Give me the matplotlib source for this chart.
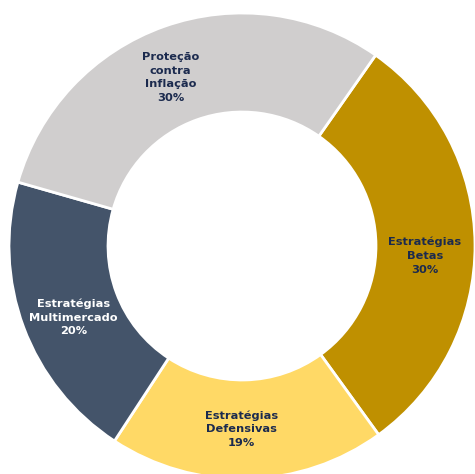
import matplotlib.pyplot as plt
import numpy as np

labels = ["Estratégias\nBetas", "Estratégias\nDefensivas", "Estratégias\nMultimercado", "Proteção\ncontra\nInflação"]
values = [30, 19, 20, 30]
colors = ["#BF9000", "#FFD966", "#44546A", "#D0CECE"]
text_colors = ["#1B2A4E", "#1B2A4E", "white", "#1B2A4E"]
# small nudges of label angle (deg) so they sit like the original
angle_nudge = [-3.5, -1.5, 2.5, 3.5]

fig = plt.figure(figsize=(4.75, 4.74), dpi=100)
ax = fig.add_axes([0, 0, 1, 1])

wedges, _ = ax.pie(
    values,
    colors=colors,
    startangle=55,
    counterclock=False,
    radius=1.0,
    wedgeprops=dict(width=0.425, edgecolor="white", linewidth=2),
)

for w, lab, val, tc, nd in zip(wedges, labels, values, text_colors, angle_nudge):
    mid = np.deg2rad((w.theta1 + w.theta2) / 2 + nd)
    r = 0.785
    ax.text(r * np.cos(mid), r * np.sin(mid), f"{lab}\n{val}%",
            ha="center", va="center", fontsize=8.2, fontweight="bold",
            color=tc, linespacing=1.45, family="DejaVu Sans")

# center at pixel (242, 246), outer radius 233 px
R = 233
ax.set_xlim(-242 / R, (475 - 242) / R)
ax.set_ylim(-(474 - 246) / R, 246 / R)
ax.set_aspect("equal")
ax.axis("off")

fig.savefig("out.png", dpi=100)
